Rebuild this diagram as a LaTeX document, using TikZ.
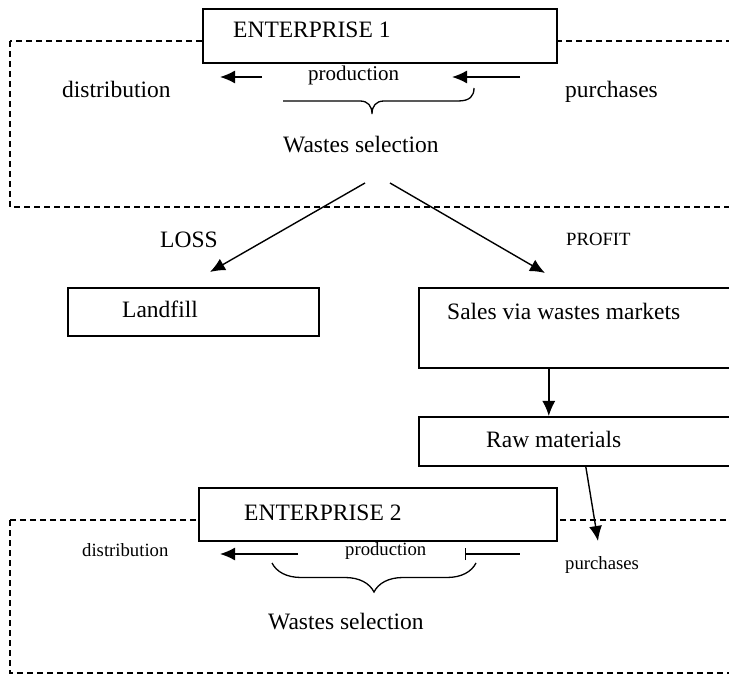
\documentclass[tikz,border=0pt]{standalone}
\usepackage{fontspec}
\setmainfont{Liberation Serif}
\usetikzlibrary{arrows.meta, decorations.pathreplacing, positioning}

\begin{document}
\begin{tikzpicture}[x=1pt, y=-1pt,
	box/.style = {draw, fill=white, line width=1.6pt, anchor=north west, inner sep=0},
	frame/.style = {line width=1.3pt, dash pattern=on 6pt off 4pt},
	flow/.style = {line width=1.4pt, -{Latex[length=15pt, width=13pt]}},
	big/.style = {font=\fontsize{23.5}{28}\selectfont, inner sep=0, anchor=base west},
	small/.style = {font=\fontsize{18.7}{22}\selectfont, inner sep=0, anchor=base west}]

	\useasboundingbox (0,0) rectangle (729,676);
	\clip (0,0) rectangle (729,676);

	% first enterprise
	\draw[frame] (10,41) rectangle (760,207);
	\node[box, minimum width=354pt, minimum height=54pt] (ent1) at (202,8) {};
	\node[big] (ent1lbl) at (233,38) {ENTERPRISE 1};

	\node[big] (dist1) at (62,98) {distribution};
	\node[font=\fontsize{21}{25}\selectfont, inner sep=0, anchor=base west] (prod1) at (308,81) {production};
	\node[big] (purch1) at (565,98) {purchases};
	\node[big] (waste1) at (283,153) {Wastes selection};

	\coordinate (p1l) at (262,77);
	\coordinate (d1r) at (220,77);
	\coordinate (u1l) at (520,77);
	\coordinate (p1r) at (452,77);
	\draw[flow] (p1l) -- (d1r);
	\draw[flow] (u1l) -- (p1r);

	% lopsided brace under production
	\draw[line width=1.3pt] (283,101) -- (360,101)
		.. controls (368,101) and (372,106) .. (372,114)
		.. controls (372,106) and (376,101) .. (384,101) -- (458,101)
		.. controls (470,101) and (474,96) .. (474,88);

	% the two ways out
	\node[big] (loss) at (160,248) {LOSS};
	\node[small] (profit) at (566,246) {PROFIT};

	\coordinate (w1l) at (365,183);
	\coordinate (w1r) at (390,183);
	\coordinate (lossend) at (210,272);
	\coordinate (profend) at (545,273);
	\draw[flow] (w1l) -- (lossend);
	\draw[flow] (w1r) -- (profend);

	\node[box, minimum width=251pt, minimum height=48pt] (land) at (67,287) {};
	\node[big] (landlbl) at (122,318) {Landfill};

	\node[box, minimum width=340pt, minimum height=80pt] (sales) at (418,287) {};
	\node[big] (saleslbl) at (447,320) {Sales via wastes markets};

	\node[box, minimum width=340pt, minimum height=49pt] (raw) at (418,416) {};
	\node[big] (rawlbl) at (486,448) {Raw materials};

	\draw[flow] ([xshift=-40pt]sales.south) -- ([xshift=-40pt]raw.north);

	% second enterprise
	\draw[frame] (10,520) rectangle (760,673);
	\node[box, minimum width=358pt, minimum height=53pt] (ent2) at (198,487) {};
	\node[big] (ent2lbl) at (244,521) {ENTERPRISE 2};

	\node[small] (dist2) at (82,556) {distribution};
	\node[small] (prod2) at (345,555) {production};
	\node[small] (purch2) at (565,569) {purchases};
	\node[big] (waste2) at (268,629) {Wastes selection};

	\coordinate (rawend) at (598,541);
	\draw[flow] ([xshift=-3pt]raw.south) -- (rawend);

	\coordinate (p2l) at (298,554);
	\coordinate (d2r) at (220,554);
	\coordinate (b2l) at (465,554);
	\coordinate (u2l) at (520,554);
	\draw[flow] (p2l) -- (d2r);
	\draw[line width=1.4pt, {Bar[width=12pt]}-] (b2l) -- (u2l);

	\draw[line width=1.3pt, decorate, decoration={brace, amplitude=29pt}]
		(476,563) -- (272,563);
\end{tikzpicture}
\end{document}
